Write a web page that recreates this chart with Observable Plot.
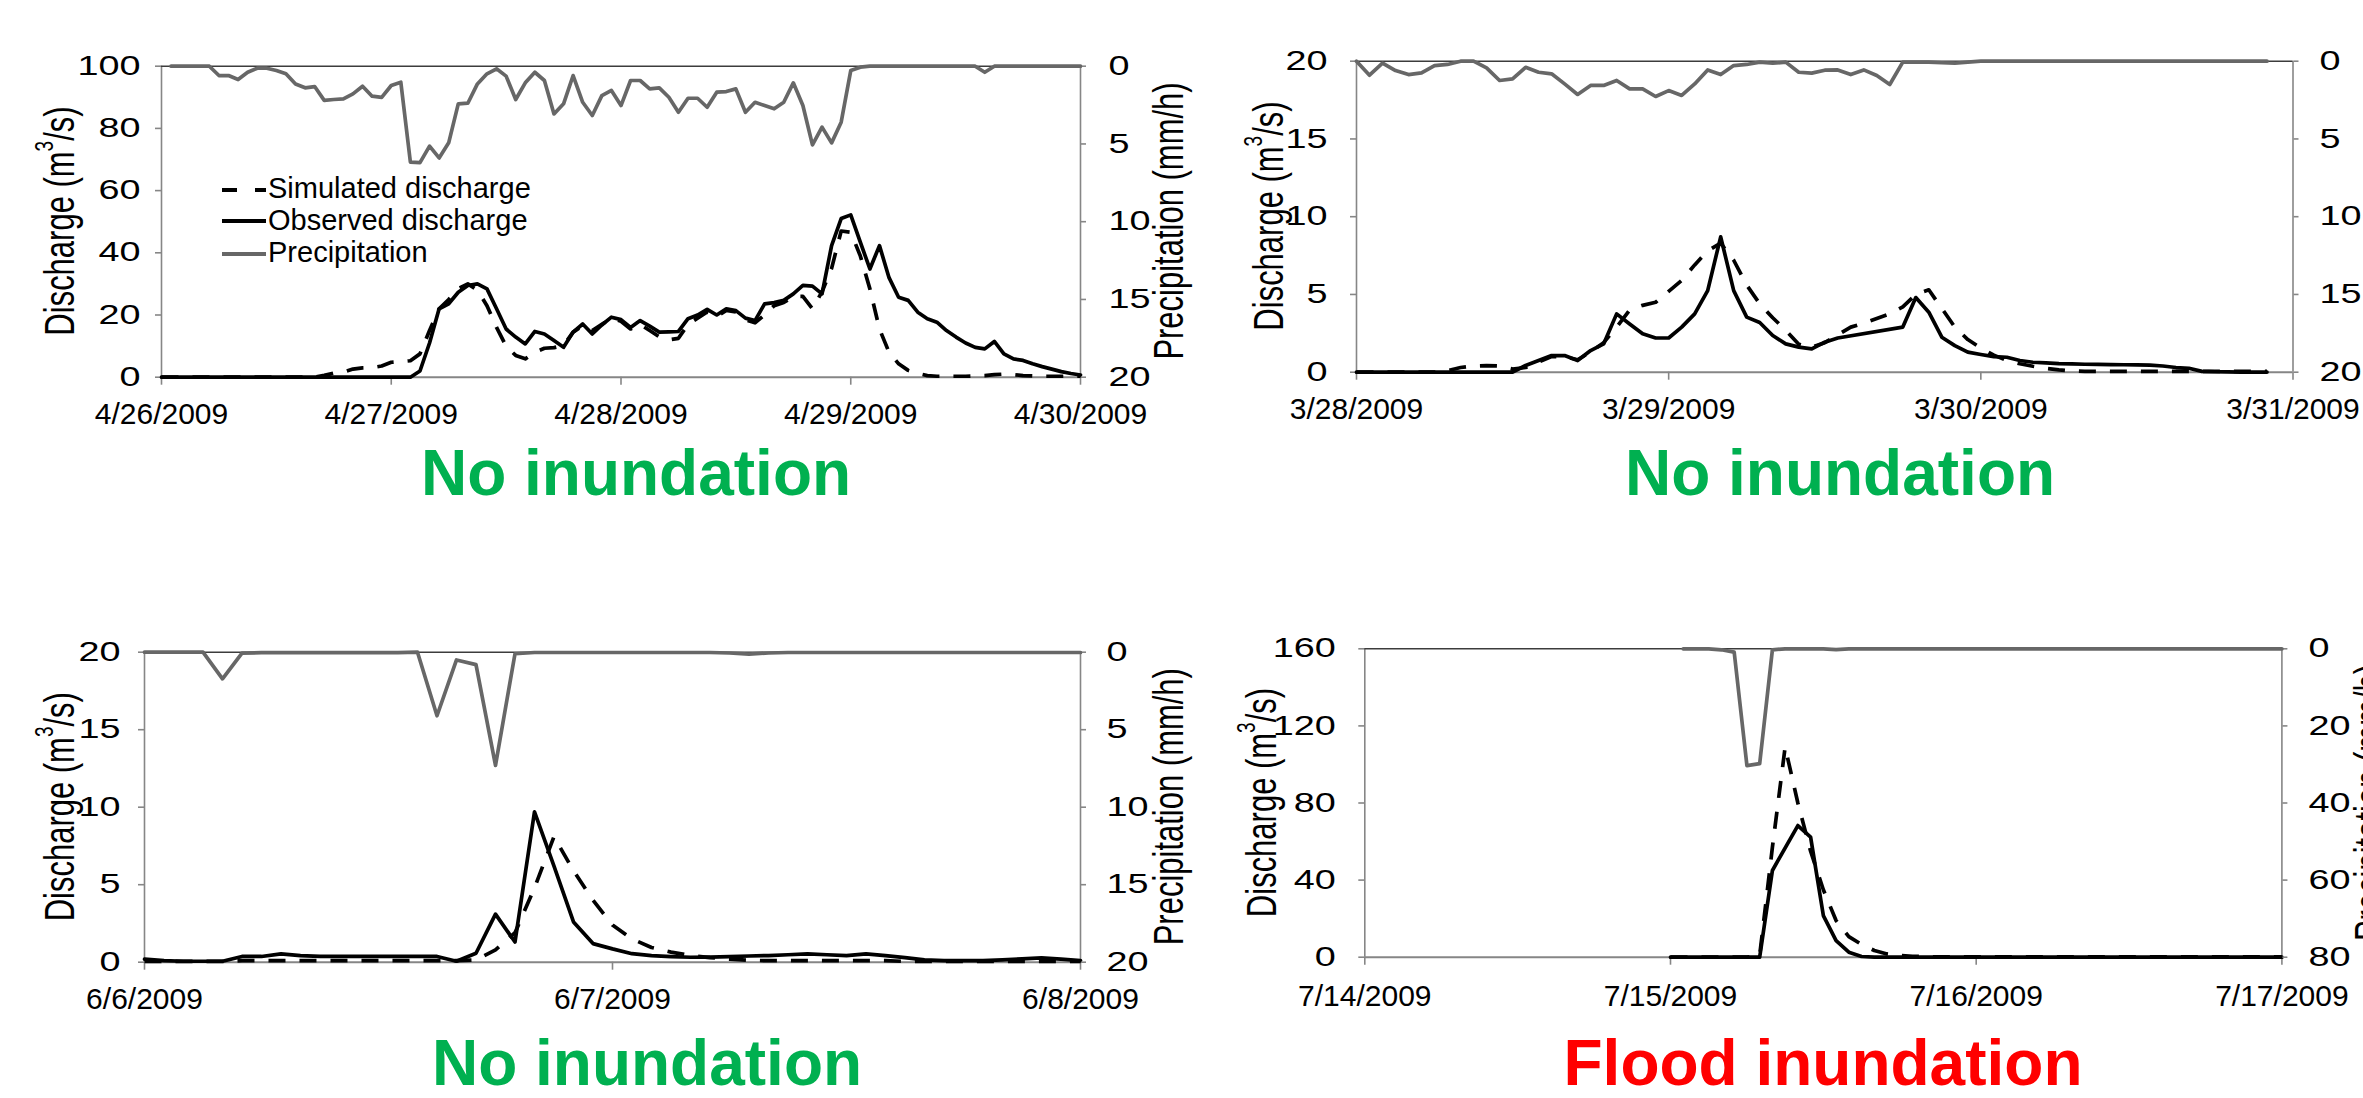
<!DOCTYPE html>
<html>
<head>
<meta charset="utf-8">
<script src="https://cdn.jsdelivr.net/npm/d3@7"></script>
<script src="https://cdn.jsdelivr.net/npm/@observablehq/plot@0.6"></script>
<style>
html,body{margin:0;padding:0;background:#fff;overflow:hidden;}
#page{position:relative;width:2363px;height:1098px;overflow:hidden;background:#fff;}
#page svg{position:absolute;left:0;top:0;}
</style>
</head>
<body>
<div id="page"></div>
<script>
// ---------------- DATA (hourly values, index = hour from panel start) ----------------
const p1Dates = ["4/26/2009","4/27/2009","4/28/2009","4/29/2009","4/30/2009"];
const p2Dates = ["3/28/2009","3/29/2009","3/30/2009","3/31/2009"];
const p3Dates = ["6/6/2009","6/7/2009","6/8/2009"];
const p4Dates = ["7/14/2009","7/15/2009","7/16/2009","7/17/2009"];

const p1Precip = [
  null,0,0,0,0,0,0.6,0.6,0.86,0.39,
  0.13,0.13,0.28,0.49,1.14,1.39,1.31,2.2,2.14,2.1,
  1.78,1.29,1.93,2.0,1.24,1.03,6.17,6.2,5.14,5.9,
  4.93,2.42,2.38,1.14,0.49,0.17,0.64,2.14,1.07,0.39,
  0.92,3.07,2.42,0.6,2.32,3.17,1.89,1.56,2.53,0.92,
  0.92,1.46,1.39,2.0,2.96,2.06,2.06,2.64,1.67,1.63,
  1.46,2.96,2.32,2.53,2.74,2.32,1.07,2.53,5.06,3.92,
  4.93,3.6,0.28,0.06,0,0,0,0,0,0,
  0,0,0,0,0,0,0.39,0,0,0,
  0,0,0,0,0,0,0
];
const p1Obs = [
  0,0,0,0,0,0,0,0,0,0,
  0,0,0,0,0,0,0,0,0,0,
  0,0,0,0,0,0,0,2,11,22,
  23.6,27.3,29.5,30,28.4,22,15.5,12.9,10.7,14.7,
  13.9,11.8,9.6,14.5,17.1,13.9,16.8,19.3,18.5,16,
  18.2,16.4,14.5,14.6,14.7,18.8,20,21.8,20,22,
  21.4,19,18.2,23.6,24,24.7,26.8,29.5,29.3,26.8,
  42.3,51,52.2,43.4,34.8,42.3,32,25.7,24.7,20.9,
  18.8,17.7,15,12.9,11,9.6,9.1,11.5,7.5,5.9,
  5.4,4.3,3.4,2.6,1.8,1.2,0.7
];
const p1Sim = [
  0,0,0,0,0,0,0,0,0,0,
  0,0,0,0,0,0,0,0.6,1.3,1.6,
  2.6,3.0,3.1,3.6,4.8,5.0,5.3,7.5,15,22,
  25,28.5,30,28,23,16,10,7,5.9,8,
  9.3,9.5,10.2,14.5,16.6,15,17,19,18,15.5,
  17,15,13,12,12.5,17,19,21,19.5,21.5,
  21,18.5,17.5,20,23,24,26,26,22,27.5,
  35,47,46.6,39,28.4,15.5,8,4.3,2.2,1.2,
  0.5,0.3,0.3,0.3,0.3,0.4,0.5,0.8,1.0,0.8,
  0.5,0.4,0.3,0.3,0.3,0.3,0.3
];

const p2Precip = [
  0,0.9,0.13,0.6,0.86,0.75,0.28,0.21,0,0,
  0.43,1.24,1.14,0.39,0.71,0.81,1.46,2.14,1.56,1.56,
  1.24,1.78,1.78,2.27,1.89,2.2,1.46,0.56,0.86,0.28,
  0.21,0.06,0.13,0.06,0.71,0.77,0.58,0.56,0.86,0.56,
  0.92,1.5,0.06,0.06,0.06,0.1,0.13,0.06,0,0,
  0,0,0,0,0,0,0,0,0,0,
  0,0,0,0,0,0,0,0,0,0,
  0,null,null
];
const p2Obs = [
  0,0,0,0,0,0,0,0,0,0,
  0,0,0,0.43,0.75,1.07,1.07,0.75,1.39,1.82,
  3.75,3.1,2.47,2.2,2.2,2.9,3.75,5.25,8.7,5.25,
  3.54,3.2,2.36,1.82,1.61,1.5,1.93,2.2,null,null,
  null,null,2.9,4.8,3.86,2.25,1.71,1.29,1.14,1.0,
  0.96,0.75,0.64,0.6,0.55,0.53,0.51,0.5,0.49,0.48,
  0.47,0.45,0.4,0.3,0.25,0.05,0.03,0.02,0.01,0.01,
  0,null,null
];
const p2Sim = [
  0,0,0,0,0,0,0,0.1,0.3,0.4,
  0.42,0.4,0.2,0.3,0.65,1.0,1.0,0.8,1.3,1.9,
  2.9,4.0,4.3,4.5,5.2,5.9,6.9,7.8,8.3,7.2,
  5.6,4.4,3.5,2.7,1.8,1.6,1.9,2.4,2.9,3.15,
  3.45,3.75,4.2,5.0,5.3,4.1,2.9,2.1,1.55,1.1,
  0.75,0.54,0.38,0.25,0.15,0.08,0.05,0.05,0.05,0.05,
  0.05,0.05,0.05,0.05,0.05,0.05,0.05,0.05,0.05,0.05,
  0.05,null,null
];

const p3Precip = [
  0,0,0,0,1.72,0.06,0.03,0.03,0.03,0.03,
  0.03,0.03,0.03,0.03,0,4.1,0.5,0.8,7.3,0.1,
  0.02,0.02,0.02,0.02,0.02,0.02,0.02,0.02,0.02,0.02,
  0.05,0.12,0.05,0.02,0.02,0.02,0.02,0.02,0.02,0.02,
  0.02,0.02,0.02,0.02,0.02,0.02,0.02,0.02,0.02
];
const p3Obs = [
  0.2,0.1,0.06,0.06,0.06,0.37,0.37,0.54,0.43,0.37,
  0.37,0.37,0.37,0.37,0.37,0.37,0.06,0.58,3.1,1.3,
  9.7,6.2,2.6,1.2,0.86,0.55,0.42,0.36,0.32,0.33,
  0.36,0.4,0.43,0.48,0.54,0.48,0.43,0.54,0.42,0.3,
  0.15,0.1,0.1,0.1,0.15,0.22,0.28,0.2,0.1
];
const p3Sim = [
  0.05,0.05,0.05,0.05,0.05,0.1,0.1,0.1,0.1,0.1,
  0.1,0.1,0.1,0.1,0.1,0.1,0.1,0.15,0.8,1.9,
  4.8,8.1,5.9,4.0,2.4,1.5,0.95,0.65,0.43,0.3,
  0.2,0.12,0.1,0.1,0.1,0.1,0.1,0.1,0.1,0.05,
  0.05,0.05,0.05,0.05,0.05,0.05,0.05,0.05,0.05
];

const p4Precip = [
  null,null,null,null,null,null,null,null,null,null,
  null,null,null,null,null,null,null,null,null,null,
  null,null,null,null,null,0,0,0,0.26,0.86,
  30.3,29.8,0.26,0,0,0,0,0.2,0,0,
  0,0,0,0,0,0,0,0,0,0,
  0,0,0,0,0,0,0,0,0,0,
  0,0,0,0,0,0,0,0,0,0,
  0,0,0
];
const p4Obs = [
  null,null,null,null,null,null,null,null,null,null,
  null,null,null,null,null,null,null,null,null,null,
  null,null,null,null,0,0,0,0,0,0,
  0,0,45,null,68.3,62.3,21.6,8.6,2.6,0.35,
  0,0,0,0,0,0,0,0,0,0,
  0,0,0,0,0,0,0,0,0,0,
  0,0,0,0,0,0,0,0,0,0,
  0,0,0
];
const p4Sim = [
  null,null,null,null,null,null,null,null,null,null,
  null,null,null,null,null,null,null,null,null,null,
  null,null,null,null,0,0,0,0,0,0,
  0,0.9,57,109,80,55,35,19,10.7,6.6,
  3.5,1.7,0.9,0.5,0.3,0.15,0.15,0.15,0.15,0.15,
  0.15,0.15,0.15,0.15,0.15,0.15,0.15,0.15,0.15,0.15,
  0.15,0.15,0.15,0.15,0.15,0.15,0.15,0.15,0.15,0.15,
  0.15,0.15,0.15
];

const legendLabels = ["Simulated discharge","Observed discharge","Precipitation"];
const leftTitle = "Discharge (m";
const rightTitle = "Precipitation (mm/h)";

// ---------------- STYLE ----------------
const FONT = '"Liberation Sans", Arial, Helvetica, sans-serif';
const W = 2363, H = 1098;
const AXIS = "#868686", TOPLINE = "#3c3c3c", PRECIP = "#676767";
const page = document.getElementById("page");

const toRows = vals => vals.map((v, i) => ({h: i, v})).filter(d => d.v != null);

function widen(svg, sx) {
  svg.querySelectorAll('g[aria-label="y-axis tick label"] text').forEach(t => {
    t.setAttribute("transform", (t.getAttribute("transform") || "") + ` scale(${sx},1)`);
  });
}

function panel(c) {
  const hours = (c.dates.length - 1) * 24;
  const common = {
    width: W, height: H,
    marginLeft: c.L, marginRight: W - c.R, marginTop: c.T, marginBottom: H - c.B,
    style: {fontFamily: FONT, fontSize: "30px", background: "transparent", overflow: "visible"}
  };
  const q = Plot.plot({
    ...common,
    x: {domain: [0, hours]},
    y: {domain: [0, c.yMax]},
    marks: [
      Plot.ruleX([0, hours], {stroke: AXIS, strokeWidth: 1.6}),
      Plot.ruleY([0], {stroke: AXIS, strokeWidth: 2}),
      Plot.axisY(d3.range(0, c.yMax + 0.001, c.yStep), {anchor: "left", tickSize: 6, tickPadding: c.lp,
        label: null, stroke: AXIS, strokeWidth: 1.6, fill: "#000", fontSize: 27}),
      Plot.axisX(d3.range(0, hours + 0.001, 24), {anchor: "bottom", tickSize: 8, tickPadding: c.xp,
        label: null, stroke: AXIS, strokeWidth: 1.6, fill: "#000", fontSize: 30,
        tickFormat: d => c.dates[Math.round(d / 24)]}),
      Plot.line(toRows(c.sim), {x: "h", y: "v", stroke: "#000", strokeWidth: 3.7,
        strokeDasharray: "17,14", strokeLinecap: "butt"}),
      Plot.line(toRows(c.obs), {x: "h", y: "v", stroke: "#000", strokeWidth: 3.7})
    ]
  });
  widen(q, 1.4);
  page.appendChild(q);
  const p = Plot.plot({
    ...common,
    x: {domain: [0, hours], axis: null},
    y: {domain: [0, c.pMax], reverse: true},
    marks: [
      Plot.ruleY([0], {stroke: TOPLINE, strokeWidth: 1.4}),
      Plot.axisY(d3.range(0, c.pMax + 0.001, c.pStep), {anchor: "right", tickSize: 5, tickPadding: c.rp,
        label: null, stroke: AXIS, strokeWidth: 1.6, fill: "#000", fontSize: 27}),
      Plot.line(toRows(c.precip), {x: "h", y: "v", stroke: PRECIP, strokeWidth: 3.7})
    ]
  });
  widen(p, 1.4);
  page.appendChild(p);
}

panel({L: 161, R: 1080, T: 65.7, B: 376.7, dates: p1Dates, yMax: 100, yStep: 20, pMax: 20, pStep: 5,
  lp: 15, rp: 23, xp: 17, obs: p1Obs, sim: p1Sim, precip: p1Precip});
panel({L: 1356, R: 2292.5, T: 60.7, B: 371.7, dates: p2Dates, yMax: 20, yStep: 5, pMax: 20, pStep: 5,
  lp: 23, rp: 21.5, xp: 17, obs: p2Obs, sim: p2Sim, precip: p2Precip});
panel({L: 144, R: 1080, T: 651.7, B: 961.7, dates: p3Dates, yMax: 20, yStep: 5, pMax: 20, pStep: 5,
  lp: 18, rp: 21, xp: 17, obs: p3Obs, sim: p3Sim, precip: p3Precip});
panel({L: 1364.3, R: 2281.4, T: 648.3, B: 956.7, dates: p4Dates, yMax: 160, yStep: 40, pMax: 80, pStep: 20,
  lp: 23, rp: 21.6, xp: 19, obs: p4Obs, sim: p4Sim, precip: p4Precip});

// ---------------- ANNOTATIONS (axis titles, legend, panel titles) ----------------
const ann = d3.create("svg").attr("width", W).attr("height", H)
  .attr("font-family", FONT).style("overflow", "hidden");

function leftT(cx, cy) {
  const t = ann.append("text").attr("transform", `translate(${cx},${cy}) rotate(-90) scale(1,1.35)`)
    .attr("text-anchor", "middle").attr("dominant-baseline", "central").attr("font-size", 31).attr("fill", "#000");
  t.append("tspan").text(leftTitle);
  t.append("tspan").attr("font-size", 19).attr("dy", -11).text("3");
  t.append("tspan").attr("dy", 11).text("/s)");
}
function rightT(cx, cy) {
  ann.append("text").attr("transform", `translate(${cx},${cy}) rotate(-90) scale(1,1.35)`)
    .attr("text-anchor", "middle").attr("dominant-baseline", "central").attr("font-size", 31).attr("fill", "#000")
    .text(rightTitle);
}
leftT(59, 221); rightT(1169, 221);
leftT(1268, 216);
leftT(59, 806.7); rightT(1169, 806.7);
leftT(1261, 802.5); rightT(2370, 802.5);

// legend (panel 1)
const lg = [
  {y: 190, base: 198, stroke: "#000", dash: "15,18"},
  {y: 221, base: 230, stroke: "#000", dash: null},
  {y: 254, base: 262, stroke: PRECIP, dash: null}
];
lg.forEach((r, i) => {
  const ln = ann.append("line").attr("x1", 222).attr("x2", 266).attr("y1", r.y).attr("y2", r.y)
    .attr("stroke", r.stroke).attr("stroke-width", 4);
  if (r.dash) ln.attr("stroke-dasharray", r.dash);
  ann.append("text").attr("x", 268).attr("y", r.base).attr("font-size", 29).attr("fill", "#000").text(legendLabels[i]);
});

// panel titles
const titles = [
  {x: 636, y: 495, c: "#00B050", t: "No inundation"},
  {x: 1840, y: 495, c: "#00B050", t: "No inundation"},
  {x: 647, y: 1085, c: "#00B050", t: "No inundation"},
  {x: 1823, y: 1085, c: "#FF0000", t: "Flood inundation"}
];
titles.forEach(d => ann.append("text").attr("x", d.x).attr("y", d.y).attr("text-anchor", "middle")
  .attr("font-size", 64).attr("font-weight", "bold").attr("fill", d.c).text(d.t));

page.appendChild(ann.node());
</script>
</body>
</html>
